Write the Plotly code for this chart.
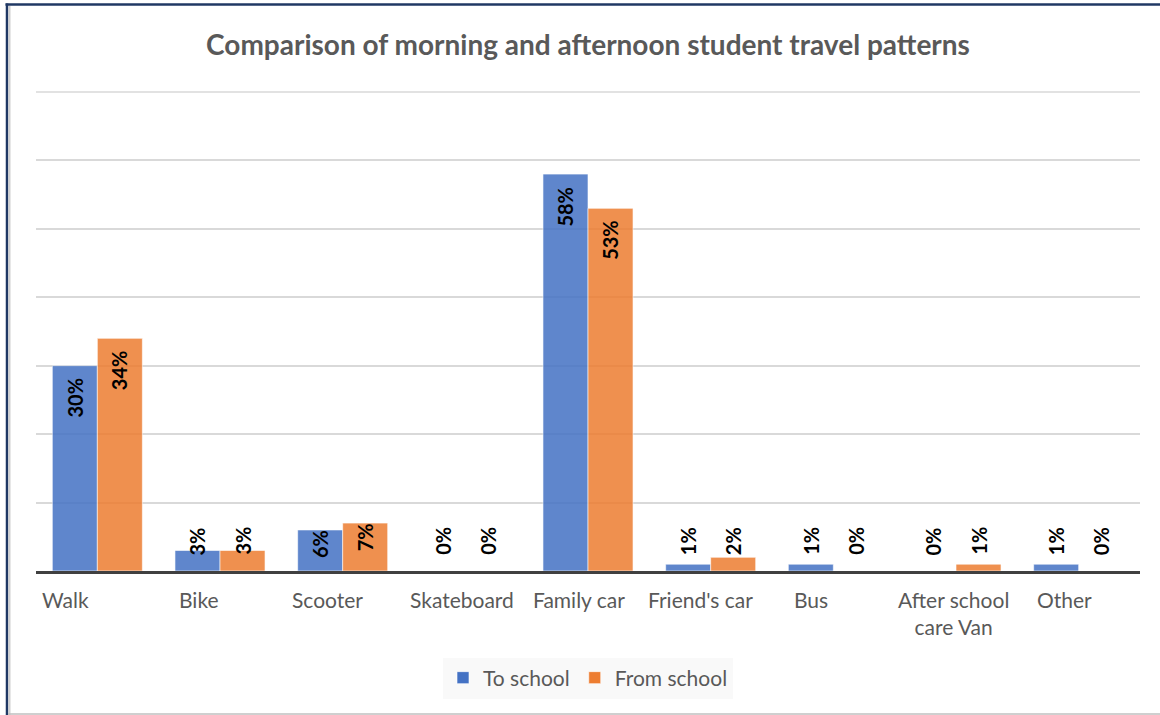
import plotly.graph_objects as go

# ---- data ----
categories = ["Walk", "Bike", "Scooter", "Skateboard", "Family car",
              "Friend's car", "Bus", "After school care Van", "Other"]
category_labels = ["Walk", "Bike", "Scooter", "Skateboard", "Family car",
                   "Friend's car", "Bus", "After school<br>care Van", "Other"]
to_school = [0.30, 0.03, 0.06, 0.00, 0.58, 0.01, 0.01, 0.00, 0.01]
from_school = [0.34, 0.03, 0.07, 0.00, 0.53, 0.02, 0.00, 0.01, 0.00]
series_names = ["To school", "From school"]
y_max = 0.7

# ---- style ----
W, H = 1160, 715
ML, MR, MT, MB = 36, 20, 92, 144
FONT = "Lato, 'Open Sans', sans-serif"
GRAY_TXT = "#595959"
GRID = "#D9D9D9"
BARGAP = 0.266
label_xshift = [-32, -21, -15, -3, -9, -10, -22, -3, -14]

pw = W - ML - MR
ph = H - MT - MB
cat_w = pw / len(categories)
bar_w = cat_w * (1 - BARGAP) / 2

fig = go.Figure()
for name, vals, col in [(series_names[0], to_school, "#4472C4"),
                        (series_names[1], from_school, "#ED7D31")]:
    fig.add_trace(go.Bar(
        name=name, x=categories, y=vals,
        marker=dict(color=col, opacity=0.85,
                    line=dict(color="rgba(255,255,255,0.6)", width=1)),
        hoverinfo="skip",
    ))

def px_x(x):
    return (x - ML) / pw
def px_y(y):
    return (H - MB - y) / ph

shapes = [
    # top gridline (top edge of the plot area = y_max)
    dict(type="line", xref="paper", yref="paper", x0=0, x1=1, y0=1, y1=1,
         layer="below", line=dict(color=GRID, width=1.5)),
    # chart frame
    dict(type="line", xref="paper", yref="paper", x0=px_x(5.5), x1=px_x(1160),
         y0=px_y(4.5), y1=px_y(4.5), line=dict(color="#203864", width=2.5)),
    dict(type="line", xref="paper", yref="paper", x0=px_x(7), x1=px_x(7),
         y0=px_y(3.5), y1=px_y(715), line=dict(color="#203864", width=2.5)),
    dict(type="line", xref="paper", yref="paper", x0=px_x(9.5), x1=px_x(9.5),
         y0=px_y(6), y1=px_y(715), line=dict(color="#CFCFCF", width=2)),
    dict(type="line", xref="paper", yref="paper", x0=px_x(8), x1=px_x(1160),
         y0=px_y(714), y1=px_y(714), line=dict(color="#BFBFBF", width=1.5)),
]

annotations = []
# category labels
for cat, lab, xs in zip(categories, category_labels, label_xshift):
    annotations.append(dict(
        x=cat, xref="x", y=0, yref="paper", yanchor="top", yshift=-14,
        xshift=xs, text=lab, showarrow=False, align="center",
        font=dict(family=FONT, size=21, color=GRAY_TXT)))

# data labels (Excel "inside end" style)
for vals, side in [(to_school, -1), (from_school, 1)]:
    for cat, v in zip(categories, vals):
        if v >= 0.1:
            y, ys = v, -32
        elif v >= 0.05:
            y, ys = v, -14
        else:
            y, ys = 0, 30
        annotations.append(dict(
            x=cat, xref="x", y=y, yref="y", xanchor="center", yanchor="middle",
            xshift=side * bar_w / 2, yshift=ys, text=f"{v:.0%}", textangle=-90,
            showarrow=False,
            font=dict(family=FONT, size=20, color="black", weight="bold")))

fig.update_layout(
    width=W, height=H,
    margin=dict(l=ML, r=MR, t=MT, b=MB),
    paper_bgcolor="white", plot_bgcolor="white",
    barmode="group", bargap=BARGAP, bargroupgap=0,
    title=dict(text="<b>Comparison of morning and afternoon student travel patterns</b>",
               x=(ML + pw / 2) / W, xref="container", xanchor="center",
               y=1 - 45 / H, yref="container", yanchor="middle",
               font=dict(family=FONT, size=28, color=GRAY_TXT)),
    font=dict(family=FONT, color=GRAY_TXT),
    xaxis=dict(showticklabels=False, showline=True, linecolor="#404040",
               linewidth=3, ticks="", showgrid=False, fixedrange=True),
    yaxis=dict(range=[0, y_max], tickvals=[0.1, 0.2, 0.3, 0.4, 0.5, 0.6],
               showticklabels=False,
               showgrid=True, gridcolor=GRID, gridwidth=1.5,
               zeroline=False, showline=False, fixedrange=True),
    legend=dict(orientation="h", x=0.5, xanchor="center",
                y=px_y(678), yanchor="middle", bgcolor="#F9F9F9",
                font=dict(family=FONT, size=21, color=GRAY_TXT),
                itemwidth=30, traceorder="normal"),
    shapes=shapes, annotations=annotations,
)

fig.write_html("out.html", config={"displayModeBar": False},
               post_script="document.body.style.margin='0';")
